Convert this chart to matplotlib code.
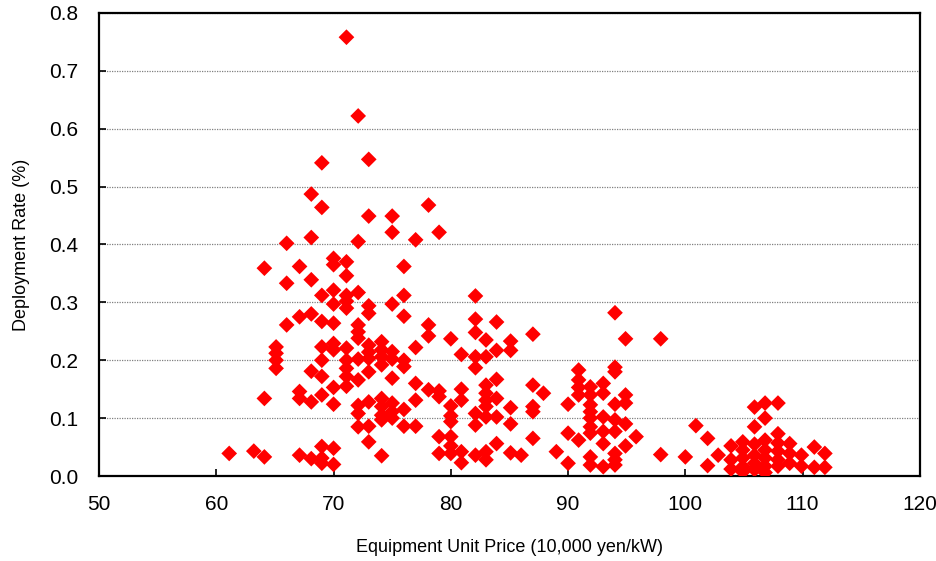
import matplotlib
matplotlib.use("Agg")
import matplotlib.pyplot as plt

plt.rcParams['font.family'] = ['Liberation Sans', 'DejaVu Sans']

# Data: price column -> deployment rates
price_cols = [61.1, 63.2, 64.1, 65.1, 66.0, 67.1, 68.1, 69.0, 70.0, 71.1,
              72.1, 73.0, 74.1, 75.0, 76.0, 77.0, 78.1, 79.0, 80.0, 80.9,
              82.1, 83.0, 83.9, 85.1, 86.0, 87.0, 87.9, 89.0, 90.0, 90.9,
              91.9, 93.0, 94.0, 94.9, 95.8, 97.9, 100.0, 100.9, 101.9, 102.8,
              103.9, 104.9, 105.9, 106.8, 107.9, 108.9, 109.9, 111.0, 111.9]
rate_cols = [
    [0.039],
    [0.043],
    [0.359, 0.134, 0.033],
    [0.223, 0.212, 0.200, 0.186],
    [0.402, 0.333, 0.261],
    [0.362, 0.275, 0.146, 0.134, 0.036],
    [0.487, 0.412, 0.339, 0.280, 0.181, 0.128, 0.030],
    [0.541, 0.464, 0.312, 0.267, 0.223, 0.200, 0.172, 0.140, 0.051, 0.031, 0.022],
    [0.376, 0.365, 0.321, 0.297, 0.264, 0.229, 0.218, 0.153, 0.124, 0.048, 0.020],
    [0.758, 0.370, 0.346, 0.312, 0.302, 0.290, 0.221, 0.200, 0.186, 0.172, 0.155],
    [0.622, 0.405, 0.317, 0.261, 0.249, 0.238, 0.202, 0.166, 0.122, 0.108, 0.085],
    [0.547, 0.449, 0.294, 0.281, 0.226, 0.214, 0.203, 0.180, 0.128, 0.086, 0.059],
    [0.232, 0.218, 0.206, 0.192, 0.134, 0.120, 0.105, 0.097, 0.035],
    [0.449, 0.421, 0.297, 0.215, 0.202, 0.169, 0.126, 0.111, 0.100],
    [0.362, 0.312, 0.276, 0.200, 0.189, 0.115, 0.086],
    [0.408, 0.222, 0.160, 0.131, 0.086],
    [0.468, 0.261, 0.242, 0.149],
    [0.421, 0.147, 0.137, 0.068, 0.039],
    [0.237, 0.121, 0.104, 0.094, 0.068, 0.052, 0.039],
    [0.210, 0.150, 0.131, 0.042, 0.023],
    [0.311, 0.271, 0.248, 0.206, 0.187, 0.108, 0.088, 0.036],
    [0.235, 0.206, 0.157, 0.143, 0.131, 0.120, 0.102, 0.042, 0.028],
    [0.266, 0.217, 0.167, 0.134, 0.102, 0.056],
    [0.233, 0.217, 0.118, 0.090, 0.040],
    [0.036],
    [0.245, 0.157, 0.120, 0.111, 0.065],
    [0.143],
    [0.042],
    [0.124, 0.074, 0.022],
    [0.183, 0.166, 0.153, 0.140, 0.062],
    [0.154, 0.140, 0.123, 0.111, 0.100, 0.085, 0.074, 0.033, 0.019],
    [0.160, 0.143, 0.102, 0.077, 0.056, 0.016],
    [0.282, 0.188, 0.180, 0.124, 0.097, 0.077, 0.039, 0.028, 0.019],
    [0.237, 0.140, 0.126, 0.090, 0.052],
    [0.068],
    [0.237, 0.037],
    [0.033],
    [0.087],
    [0.065, 0.018],
    [0.036],
    [0.052, 0.028, 0.012],
    [0.059, 0.045, 0.031, 0.016, 0.007],
    [0.119, 0.085, 0.055, 0.036, 0.022, 0.011],
    [0.126, 0.100, 0.062, 0.045, 0.031, 0.017, 0.006],
    [0.126, 0.073, 0.057, 0.043, 0.028, 0.017],
    [0.056, 0.039, 0.022],
    [0.036, 0.017],
    [0.050, 0.015],
    [0.039, 0.015],
]

x_ticks = [50, 60, 70, 80, 90, 100, 110, 120]
y_ticks = [0.0, 0.1, 0.2, 0.3, 0.4, 0.5, 0.6, 0.7, 0.8]
x_label = "Equipment Unit Price (10,000 yen/kW)"
y_label = "Deployment Rate (%)"

xs, ys = [], []
for p, rates in zip(price_cols, rate_cols):
    for r in rates:
        xs.append(p)
        ys.append(r)

fig = plt.figure(figsize=(9.37, 5.61), dpi=100)
ax = fig.add_axes([0.1057, 0.1515, 0.876, 0.8255])

ax.scatter(xs, ys, marker='D', s=64, color='#ff0000', edgecolors='none', zorder=3)

ax.set_xlim(50, 120)
ax.set_ylim(0, 0.8)
ax.set_xticks(x_ticks)
ax.set_yticks(y_ticks)
ax.set_yticklabels([f"{v:.1f}" for v in y_ticks])
ax.tick_params(axis='both', direction='in', length=5, width=1.2, labelsize=15)
ax.tick_params(axis='y', pad=15)
ax.tick_params(axis='x', pad=14)
ax.yaxis.grid(True, linestyle=(0, (1, 1)), color='#808080', linewidth=0.9)
ax.set_axisbelow(True)
for sp in ax.spines.values():
    sp.set_linewidth(1.6)
    sp.set_color('black')

ax.set_xlabel(x_label, fontsize=13, labelpad=18)
ax.set_ylabel(y_label, fontsize=13, labelpad=14)

fig.savefig("out.png", dpi=100)
